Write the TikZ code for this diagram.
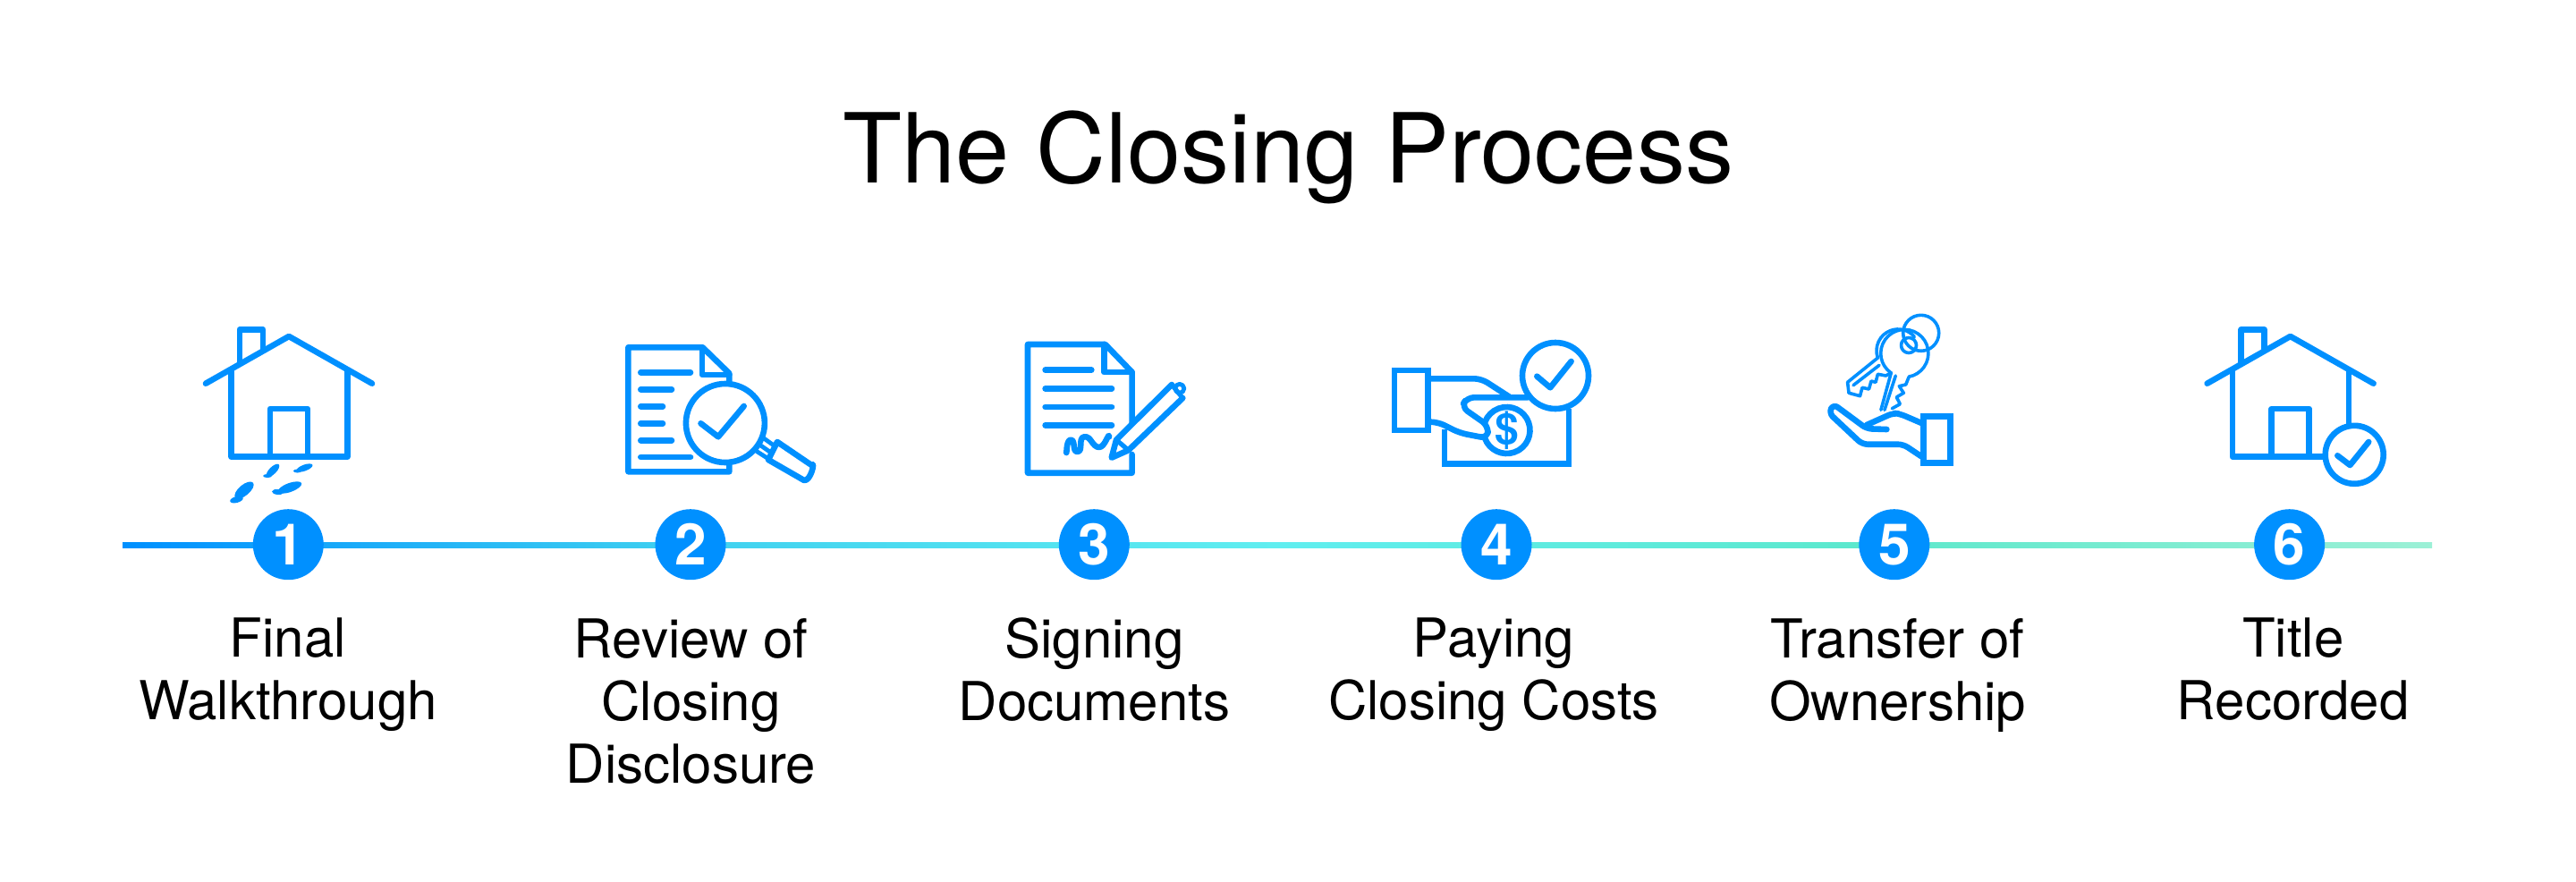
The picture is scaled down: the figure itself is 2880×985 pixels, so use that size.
\documentclass[tikz,border=0pt]{standalone}
\usepackage{fontspec}
\setmainfont{TeX Gyre Heros}
\usetikzlibrary{calc}
\definecolor{brandblue}{HTML}{0090FF}
\definecolor{stopa}{HTML}{0090FF}
\definecolor{stopb}{HTML}{3FD0F0}
\definecolor{stopc}{HTML}{60EEF0}
\definecolor{stopd}{HTML}{5CE8CC}
\definecolor{stope}{HTML}{9CF0D6}
\pgfdeclarehorizontalshading{timeline}{100bp}{
 color(0bp)=(stopa); color(25bp)=(stopa); color(37bp)=(stopb); color(50bp)=(stopc); color(63bp)=(stopd); color(75bp)=(stope); color(100bp)=(stope)}
\tikzset{
 ico/.style={draw=brandblue,line width=3.3pt,line join=round,line cap=round,fill=none},
 thin ico/.style={draw=brandblue,line width=1.8pt,line join=round,line cap=round,fill=none},
 numdot/.style={circle,fill=brandblue,minimum size=39.5pt,inner sep=0pt,text=white,font=\bfseries\fontsize{32}{32}\selectfont},
 steplabel/.style={align=center,anchor=north,font=\fontsize{30}{35}\selectfont,text=black,inner sep=0pt},
}
\newcommand{\firstline}{\rule{0pt}{21pt}}
\newcommand{\housebody}[1]{%
 \draw[ico] (#1-93,428.7) -- (#1,376) -- (#1+93,428.7);
 \draw[ico] (#1-55,405) -- (#1-55,368.3) -- (#1-29,368.3) -- (#1-29,390);
 \draw[ico] (#1-21,510.7) -- (#1-21,457) -- (#1+21,457) -- (#1+21,510.7);
}
\begin{document}
\begin{tikzpicture}[x=0.5pt,y=-0.5pt]
\useasboundingbox (0,0) rectangle (2880,985);
\fill[white] (0,0) rectangle (2880,985);
% title
\node[anchor=base,font=\fontsize{54}{60}\selectfont,inner sep=0pt] (title) at (1440,204.3) {The Closing Process};
% timeline
\shade[shading=timeline] (137,606) rectangle (2719,612.7);
% circles
\foreach \nm/\cx/\n in {one/322.3/1,two/772/2,three/1223.3/3,four/1673/4,five/2117.8/5,six/2559.6/6}{
 \node[numdot] (\nm) at (\cx,608.7) {\n};
}
% labels
\node[steplabel] (l1) at (322,690.7) {\firstline Final\\Walkthrough};
\node[steplabel] (l2) at (772.5,690.7) {\firstline Review of\\Closing\\Disclosure};
\node[steplabel] (l3) at (1223.5,690.7) {\firstline Signing\\Documents};
\node[steplabel] (l4) at (1670,690.7) {\firstline Paying\\Closing Costs};
\node[steplabel] (l5) at (2121.7,690.7) {\firstline Transfer of\\Ownership};
\node[steplabel] (l6) at (2563.7,690.7) {\firstline Title\\Recorded};
% icon 1
\housebody{323}
\draw[ico] (258.6,415) -- (258.6,510.7) -- (388.5,510.7) -- (388.5,415);
\fill[brandblue,rotate around={40:(273,548)}] (273,548) ellipse[x radius=13,y radius=6];
\fill[brandblue,rotate around={15:(264.5,558.5)}] (264.5,558.5) ellipse[x radius=7.5,y radius=3.5];
\fill[brandblue,rotate around={20:(324,545)}] (324,545) ellipse[x radius=14,y radius=5];
\fill[brandblue,rotate around={-5:(310.5,550)}] (310.5,550) ellipse[x radius=6.5,y radius=3];
\fill[brandblue,rotate around={45:(305,526)}] (305,526) ellipse[x radius=9.5,y radius=4];
\fill[brandblue] (299,532) ellipse[x radius=5,y radius=2];
\fill[brandblue,rotate around={20:(340.5,523)}] (340.5,523) ellipse[x radius=9.5,y radius=3.5];
\fill[brandblue] (332.5,526.5) ellipse[x radius=4.5,y radius=2];
% icon 2
\draw[ico] (815.3,426.7) -- (815.3,417.3) -- (785.5,388.3) -- (702.4,388.3) -- (702.4,527.3) -- (815.3,527.3) -- (815.3,519);
\draw[ico] (785,388.3) -- (785,419) -- (815.3,419);
\foreach \yy/\xx in {416.3/772,435.3/751,454.3/741,473.3/741,492.3/751,511/772}{
 \draw[ico] (716.3,\yy) -- (\xx,\yy);
}
\draw[ico] (810.9,473) circle[radius=44];
\draw[ico] (783.5,473.3) -- (803,488.3) -- (831.7,454);
\draw[ico,line width=2.4pt] (854,490) -- (866.6,499) (846.7,505) -- (857.7,512) (849,497) -- (862,506);
\draw[ico] (869,494) -- (907.3,520) to[out=50,in=-10] (899,537) -- (859,514) -- cycle;
% icon 3
\draw[ico] (1265.6,473.3) -- (1265.6,416) -- (1235.7,385) -- (1149,385) -- (1149,528.7) -- (1265.6,528.7) -- (1265.6,508);
\draw[ico] (1234.2,385) -- (1234.2,416) -- (1265.6,416);
\foreach \yy/\xx in {413.7/1220.3,434.3/1243,455/1243,475.3/1243}{
 \draw[ico] (1168.6,\yy) -- (\xx,\yy);
}
\draw[ico] (1192,505) to[out=-80,in=180] (1197,491.7) to[out=0,in=180] (1204.4,505) to[out=0,in=190] (1212,488.3) to[out=10,in=180] (1229,500) to[out=0,in=90] (1240,488.3);
\draw[ico,fill=white] (1310,430) -- (1248,491.7) -- (1242.7,511.7) -- (1261.6,503.3) -- (1322.3,445);
\draw[ico,line width=2.6pt] (1310,430) -- (1322.3,445) (1248,491.7) -- (1261.6,503.3);
\draw[ico,line width=2.4pt] (1318.8,434.3) circle[radius=5];
% icon 4
\draw[ico,line cap=butt,line join=miter] (1559,414) rectangle (1596.4,481);
\draw[ico,rounded corners=4pt] (1597.4,423.3) -- (1656,423.3) -- (1687,443.3);
\draw[ico,rounded corners=4pt] (1708,444.3) -- (1640,444.3) -- (1634,455) -- (1664,476) -- (1663,490) -- (1632,484) -- (1607.4,471.7) -- (1597.4,471.7);
\draw[ico,line cap=butt,line join=miter] (1615,480) -- (1615,518.3) -- (1754,518.3) -- (1754,456.7);
\draw[ico] (1684.5,481) ++(160:26) arc[start angle=160,end angle=-160,radius=26];
\node[inner sep=0pt,text=brandblue,font=\bfseries\fontsize{24}{24}\selectfont] (dollar) at (1684.5,481) {\$};
\draw[ico] (1739,420) circle[radius=37];
\draw[ico] (1718.3,420.7) -- (1733.2,433.3) -- (1756.6,404);
% icon 5
\draw[thin ico] (2147.7,372.3) circle[radius=20];
\draw[thin ico] (2122,392) ++(160:24) arc[start angle=160,end angle=320,radius=24];
\draw[thin ico] (2129.3,395) ++(125:26.6) arc[start angle=125,end angle=440,radius=26.6];
\draw[thin ico] (2134,386) circle[radius=8.5];
\draw[thin ico] (2099.4,400) -- (2065.6,427.3) -- (2067,439.3) -- (2079.5,442.7) -- (2082,433.3) -- (2089.5,435) -- (2092,426) -- (2097,427.3) -- (2099.4,418.3) -- (2108.4,420) -- (2114.3,416.7);
\draw[thin ico] (2072,430.7) -- (2101,408.3);
\draw[thin ico] (2114.3,416.7) -- (2102.9,458.3);
\draw[thin ico] (2119.3,420) -- (2106.9,458.3);
\draw[thin ico] (2134,421.7) -- (2130.7,430) -- (2123.3,431.7) -- (2128.3,439.3) -- (2120.3,444) -- (2124.3,451.7) -- (2115.3,456.7);
\draw[ico,rounded corners=3pt] (2147.7,510) -- (2127.8,496.7) -- (2082,496.7) -- (2044.7,461.7) -- (2049.7,451.7) -- (2087,479.3) -- (2109.4,480);
\draw[ico,rounded corners=3pt] (2087,475) -- (2116.8,461.7) -- (2124.3,462.7) -- (2149,473.3);
\draw[ico,line cap=butt,line join=miter] (2150.6,465.7) rectangle (2180.5,517.7);
% icon 6
\housebody{2560.6}
\draw[ico] (2496,415) -- (2496,510.7) -- (2599.4,510.7);
\draw[ico] (2625.8,415) -- (2625.8,475);
\draw[ico] (2632.2,508.3) circle[radius=32.5];
\draw[ico] (2613.3,509.3) -- (2627.3,520) -- (2648.2,494);
\end{tikzpicture}
\end{document}
